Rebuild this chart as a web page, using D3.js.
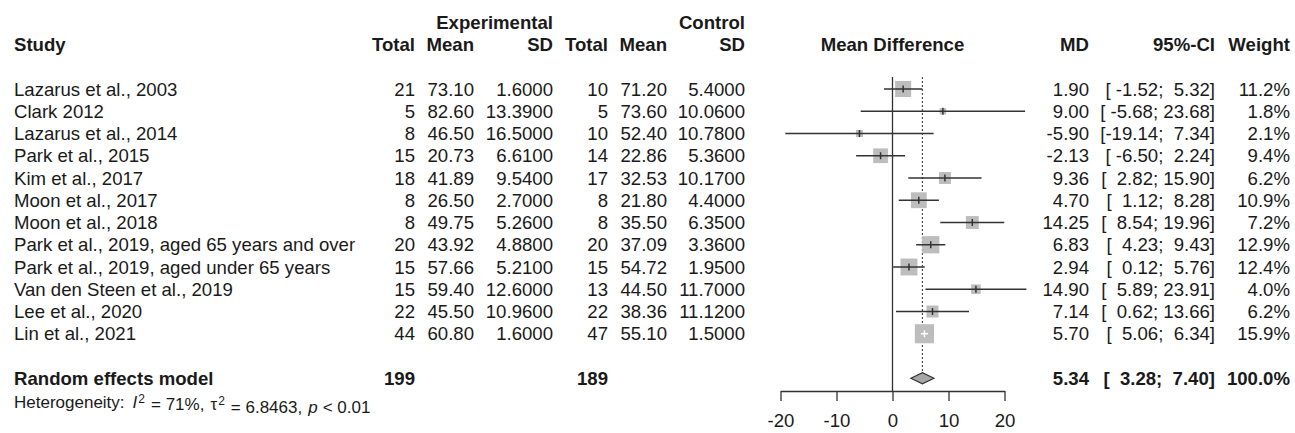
<!DOCTYPE html>
<html>
<head>
<meta charset="utf-8">
<script src="https://cdn.jsdelivr.net/npm/d3@7"></script>
<style>
  html, body { margin: 0; padding: 0; background: #fff; }
  svg { display: block; }
  text { font-family: "Liberation Sans", Arial, sans-serif; fill: #1a1a1a; white-space: pre; }
  .b { font-weight: bold; }
</style>
</head>
<body>
<svg id="chart" width="1295" height="433"></svg>
<script>
// Studies and their reported values
const studies = [
  "Lazarus et al., 2003", "Clark 2012", "Lazarus et al., 2014", "Park et al., 2015",
  "Kim et al., 2017", "Moon et al., 2017", "Moon et al., 2018",
  "Park et al., 2019, aged 65 years and over", "Park et al., 2019, aged under 65 years",
  "Van den Steen et al., 2019", "Lee et al., 2020", "Lin et al., 2021"
];
const expTotal  = [21, 5, 8, 15, 18, 8, 8, 20, 15, 15, 22, 44];
const expMean   = [73.10, 82.60, 46.50, 20.73, 41.89, 26.50, 49.75, 43.92, 57.66, 59.40, 45.50, 60.80];
const expSD     = [1.6, 13.39, 16.5, 6.61, 9.54, 2.7, 5.26, 4.88, 5.21, 12.6, 10.96, 1.6];
const ctrlTotal = [10, 5, 10, 14, 17, 8, 8, 20, 15, 13, 22, 47];
const ctrlMean  = [71.20, 73.60, 52.40, 22.86, 32.53, 21.80, 35.50, 37.09, 54.72, 44.50, 38.36, 55.10];
const ctrlSD    = [5.4, 10.06, 10.78, 5.36, 10.17, 4.4, 6.35, 3.36, 1.95, 11.7, 11.12, 1.5];
const md        = [1.90, 9.00, -5.90, -2.13, 9.36, 4.70, 14.25, 6.83, 2.94, 14.90, 7.14, 5.70];
const ciLower   = [-1.52, -5.68, -19.14, -6.50, 2.82, 1.12, 8.54, 4.23, 0.12, 5.89, 0.62, 5.06];
const ciUpper   = [5.32, 23.68, 7.34, 2.24, 15.90, 8.28, 19.96, 9.43, 5.76, 23.91, 13.66, 6.34];
const weight    = [11.2, 1.8, 2.1, 9.4, 6.2, 10.9, 7.2, 12.9, 12.4, 4.0, 6.2, 15.9];

// Pooled random effects estimate
const pooledLabel = "Random effects model";
const pooledExpTotal = 199;
const pooledCtrlTotal = 189;
const pooled = { md: 5.34, lower: 3.28, upper: 7.40, weight: 100.0 };

const axisTicks = [-20, -10, 0, 10, 20];

const svg = d3.select("#chart");
const FS = 18.6;

// Plain hyphen for negative numbers
const loc = d3.formatLocale({ decimal: ".", thousands: ",", grouping: [3], currency: ["", ""], minus: "-" });
const f2 = loc.format(".2f"), f4 = loc.format(".4f"), f1 = loc.format(".1f"), fd = loc.format("d");

const x = d3.scaleLinear().domain([-20, 20]).range([780.5, 1004.5]);
const rowY = i => 89 + i * 22.25;
const headerY1 = rowY(-3), headerY2 = rowY(-2);
const pooledY = rowY(13), hetY = rowY(14) + 1.5;
const axisY = 391;

const ciText = (lo, hi) => "[" + f2(lo).padStart(6, " ") + "; " + f2(hi).padStart(5, " ") + "]";

function txt(xp, yp, s, anchor, bold, size) {
  return svg.append("text")
    .attr("x", xp).attr("y", yp).attr("dy", "0.36em")
    .attr("text-anchor", anchor || "start")
    .attr("class", bold ? "b" : null)
    .style("font-size", (size || FS) + "px")
    .text(s);
}

// Column anchors (right edges for numeric columns)
const col = { study: 14, eT: 415, eM: 474, eS: 553, cT: 608, cM: 667, cS: 745, md: 1089, ci: 1215, w: 1290 };

// Headers
txt(col.eS, headerY1, "Experimental", "end", true);
txt(col.cS, headerY1, "Control", "end", true);
txt(col.study, headerY2, "Study", "start", true);
txt(col.eT, headerY2, "Total", "end", true);
txt(col.eM, headerY2, "Mean", "end", true);
txt(col.eS, headerY2, "SD", "end", true);
txt(col.cT, headerY2, "Total", "end", true);
txt(col.cM, headerY2, "Mean", "end", true);
txt(col.cS, headerY2, "SD", "end", true);
txt(x(0), headerY2, "Mean Difference", "middle", true);
txt(col.md, headerY2, "MD", "end", true);
txt(col.ci, headerY2, "95%-CI", "end", true);
txt(col.w, headerY2, "Weight", "end", true);

// Study rows: text columns
studies.forEach((s, i) => {
  const y = rowY(i);
  txt(col.study, y, s);
  txt(col.eT, y, String(expTotal[i]), "end");
  txt(col.eM, y, f2(expMean[i]), "end");
  txt(col.eS, y, f4(expSD[i]), "end");
  txt(col.cT, y, String(ctrlTotal[i]), "end");
  txt(col.cM, y, f2(ctrlMean[i]), "end");
  txt(col.cS, y, f4(ctrlSD[i]), "end");
  txt(col.md, y, f2(md[i]), "end");
  txt(col.ci, y, ciText(ciLower[i], ciUpper[i]), "end");
  txt(col.w, y, f1(weight[i]) + "%", "end");
});

// Pooled row
txt(col.study, pooledY, pooledLabel, "start", true);
txt(col.eT, pooledY, String(pooledExpTotal), "end", true);
txt(col.cT, pooledY, String(pooledCtrlTotal), "end", true);
txt(col.md, pooledY, f2(pooled.md), "end", true);
txt(col.ci, pooledY, ciText(pooled.lower, pooled.upper), "end", true);
txt(col.w, pooledY, f1(pooled.weight) + "%", "end", true);

// Heterogeneity line
const het = svg.append("text")
  .attr("x", col.study).attr("y", hetY).attr("dy", "0.36em")
  .style("font-size", "17px");
het.append("tspan").text("Heterogeneity:");
het.append("tspan").attr("dx", 8).style("font-style", "italic").text("I");
het.append("tspan").attr("dx", 1).attr("dy", "-0.45em").style("font-size", "12px").text("2");
het.append("tspan").attr("dx", 6).attr("dy", "0.45em").text("= 71%,");
het.append("tspan").attr("dx", 6).text("\u03c4");
het.append("tspan").attr("dx", 1).attr("dy", "-0.45em").style("font-size", "12px").text("2");
het.append("tspan").attr("dx", 6).attr("dy", "0.45em").text("= 6.8463,");
het.append("tspan").attr("dx", 6).style("font-style", "italic").text("p");
het.append("tspan").attr("dx", 5).text("< 0.01");

// Reference line at zero
svg.append("line")
  .attr("x1", x(0)).attr("x2", x(0))
  .attr("y1", rowY(0) - 12).attr("y2", axisY)
  .attr("stroke", "#333").attr("stroke-width", 1.3);

// Dotted line at the pooled estimate
const diamondH = 5.5;
svg.append("line")
  .attr("x1", x(pooled.md)).attr("x2", x(pooled.md))
  .attr("y1", rowY(0) - 12).attr("y2", pooledY - diamondH)
  .attr("stroke", "#444").attr("stroke-width", 1.1)
  .attr("stroke-dasharray", "2,2");

// Study squares (area proportional to weight), confidence intervals and point markers
const sq = w => 4.8 * Math.sqrt(w);
const g = svg.append("g");
studies.forEach((s, i) => {
  const y = rowY(i);
  const side = sq(weight[i]);
  const inside = x(ciLower[i]) >= x(md[i]) - side / 2 && x(ciUpper[i]) <= x(md[i]) + side / 2;
  g.append("rect")
    .attr("x", x(md[i]) - side / 2).attr("y", y - side / 2)
    .attr("width", side).attr("height", side)
    .attr("fill", "#bdbdbd");
  const lc = inside ? "#ffffff" : "#333";
  g.append("line")
    .attr("x1", x(ciLower[i])).attr("x2", x(ciUpper[i]))
    .attr("y1", y).attr("y2", y)
    .attr("stroke", lc).attr("stroke-width", 1.5);
  g.append("line")
    .attr("x1", x(md[i])).attr("x2", x(md[i]))
    .attr("y1", y - 3.5).attr("y2", y + 3.5)
    .attr("stroke", lc).attr("stroke-width", 1.5);
});

// Pooled diamond
svg.append("path")
  .attr("d", d3.line()([
    [x(pooled.lower), pooledY], [x(pooled.md), pooledY - diamondH],
    [x(pooled.upper), pooledY], [x(pooled.md), pooledY + diamondH]
  ]) + "Z")
  .attr("fill", "#a6a6a6").attr("stroke", "#333").attr("stroke-width", 1.2);

// Axis
const axis = svg.append("g")
  .attr("transform", `translate(0,${axisY})`)
  .call(d3.axisBottom(x).tickValues(axisTicks).tickSize(10).tickSizeOuter(0).tickPadding(13).tickFormat(fd));
axis.select(".domain").attr("stroke", "#333").attr("stroke-width", 1.3);
axis.selectAll(".tick line").attr("stroke", "#333").attr("stroke-width", 1.3);
axis.selectAll(".tick text")
  .style("font-family", "'Liberation Sans', Arial, sans-serif")
  .style("font-size", FS + "px").attr("fill", "#1a1a1a");
</script>
</body>
</html>
